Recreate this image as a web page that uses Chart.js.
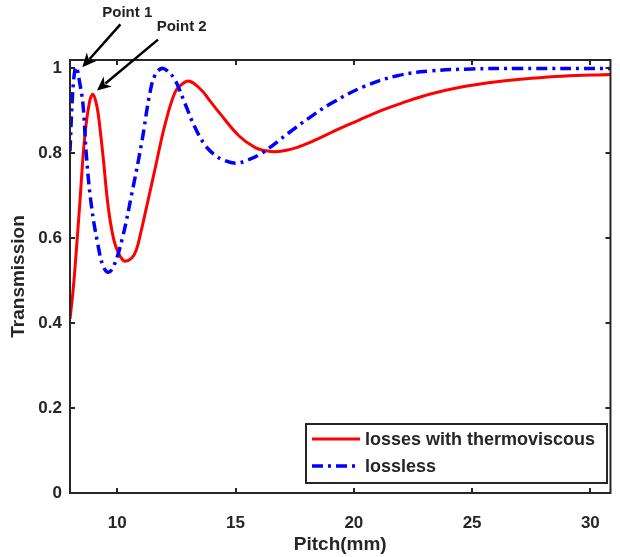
<!DOCTYPE html>
<html>
<head>
<meta charset="utf-8">
<script src="https://cdn.jsdelivr.net/npm/chart.js@4/dist/chart.umd.min.js"></script>
<style>
  html, body { margin: 0; padding: 0; background: #fff; }
  #wrap { width: 620px; height: 557px; }
</style>
</head>
<body>
<div id="wrap"><canvas id="chart" width="620" height="557"></canvas></div>
<script>
// Data
const LOSSY_X = [8.0, 8.1, 8.2, 8.41, 8.62, 8.83, 8.97, 9.1, 9.2, 9.39, 9.62, 9.85, 10.05, 10.2, 10.33, 10.6, 10.8, 11.0, 11.17, 11.59, 12.0, 12.43, 12.71, 13.05, 13.54, 13.9, 14.31, 15.15, 15.85, 16.3, 16.68, 17.2, 17.65, 18.07, 18.5, 19.0, 19.7, 20.45, 21.2, 22.0, 23.24, 24.5, 26.04, 27.5, 28.8, 30.85];
const LOSSY_Y = [0.41, 0.46, 0.522, 0.679, 0.837, 0.923, 0.939, 0.92, 0.89, 0.797, 0.672, 0.597, 0.565, 0.551, 0.546, 0.553, 0.572, 0.615, 0.657, 0.762, 0.864, 0.943, 0.962, 0.970, 0.95, 0.925, 0.896, 0.841, 0.813, 0.806, 0.804, 0.808, 0.815, 0.824, 0.835, 0.848, 0.866, 0.884, 0.902, 0.918, 0.94, 0.956, 0.969, 0.977, 0.982, 0.986];

const LOSSLESS_X = [8.0, 8.1, 8.2, 8.27, 8.4, 8.55, 8.69, 8.9, 9.18, 9.4, 9.62, 9.85, 10.2, 10.62, 11.03, 11.38, 11.6, 11.87, 12.1, 12.43, 12.85, 13.26, 13.68, 14.1, 14.5, 15.0, 15.5, 16.12, 17.24, 18.07, 19.05, 20.45, 21.84, 23.24, 25.0, 27.0, 30.85];
const LOSSLESS_Y = [0.805, 0.93, 0.995, 1.003, 0.97, 0.915, 0.797, 0.679, 0.585, 0.535, 0.52, 0.535, 0.597, 0.707, 0.825, 0.943, 0.985, 1.0, 0.995, 0.974, 0.919, 0.864, 0.822, 0.797, 0.784, 0.777, 0.784, 0.801, 0.848, 0.882, 0.918, 0.958, 0.983, 0.994, 0.999, 1.0, 1.0];

const SERIES_LABELS = ['losses with thermoviscous', 'lossless'];
const X_TICKS = [10, 15, 20, 25, 30];
const Y_TICKS = [0, 0.2, 0.4, 0.6, 0.8, 1];

// Callouts: label, text position, arrow tail, arrow tip (data units)
const CALLOUTS = [
  { text: 'Point 1', at: [10.42, 1.132], from: [10.13, 1.104], to: [8.52, 1.003] },
  { text: 'Point 2', at: [12.72, 1.097], from: [11.72, 1.068], to: [9.14, 0.948] }
];

const INK = '#262626';
const FONT = '"Liberation Sans", Arial, sans-serif';

const toPoints = (xs, ys) => xs.map((x, i) => ({ x, y: ys[i] }));

// Frame, inward ticks, legend and callouts
const decorations = {
  id: 'decorations',
  afterDraw(chart) {
    const { ctx, chartArea: a, scales: { x, y } } = chart;
    ctx.save();

    // frame
    ctx.strokeStyle = INK;
    ctx.lineWidth = 2;
    ctx.strokeRect(a.left, a.top, a.right - a.left, a.bottom - a.top);

    // inward ticks on all sides
    const len = 5;
    ctx.beginPath();
    X_TICKS.forEach(v => {
      const px = Math.round(x.getPixelForValue(v));
      ctx.moveTo(px, a.bottom); ctx.lineTo(px, a.bottom - len);
      ctx.moveTo(px, a.top); ctx.lineTo(px, a.top + len);
    });
    Y_TICKS.forEach(v => {
      const py = Math.round(y.getPixelForValue(v));
      ctx.moveTo(a.left, py); ctx.lineTo(a.left + len, py);
      ctx.moveTo(a.right, py); ctx.lineTo(a.right - len, py);
    });
    ctx.stroke();

    // legend box
    const box = { left: 306, top: 424, width: 301, height: 59 };
    ctx.fillStyle = '#fff';
    ctx.fillRect(box.left, box.top, box.width, box.height);
    ctx.strokeStyle = INK;
    ctx.lineWidth = 2;
    ctx.strokeRect(box.left, box.top, box.width, box.height);

    ctx.font = 'bold 18px ' + FONT;
    ctx.textBaseline = 'middle';
    ctx.textAlign = 'left';
    chart.data.datasets.forEach((ds, i) => {
      const rowY = box.top + 15 + i * 27;
      ctx.beginPath();
      ctx.strokeStyle = ds.borderColor;
      ctx.lineWidth = ds.borderWidth;
      ctx.setLineDash(ds.borderDash || []);
      ctx.moveTo(box.left + 6, rowY);
      ctx.lineTo(box.left + 54, rowY);
      ctx.stroke();
      ctx.setLineDash([]);
      ctx.fillStyle = INK;
      ctx.fillText(ds.label, box.left + 59, rowY + 1);
    });

    // callouts
    ctx.fillStyle = '#000';
    ctx.strokeStyle = '#000';
    ctx.lineWidth = 2.5;
    CALLOUTS.forEach(c => {
      const tx = x.getPixelForValue(c.at[0]), ty = y.getPixelForValue(c.at[1]);
      const fx = x.getPixelForValue(c.from[0]), fy = y.getPixelForValue(c.from[1]);
      const ex = x.getPixelForValue(c.to[0]), ey = y.getPixelForValue(c.to[1]);
      const ang = Math.atan2(ey - fy, ex - fx);
      const head = 14, half = 6.5;
      const bx = ex - head * Math.cos(ang), by = ey - head * Math.sin(ang);
      ctx.beginPath();
      ctx.moveTo(fx, fy);
      ctx.lineTo(bx + 3 * Math.cos(ang), by + 3 * Math.sin(ang));
      ctx.stroke();
      ctx.beginPath();
      ctx.moveTo(ex, ey);
      ctx.lineTo(bx - half * Math.sin(ang), by + half * Math.cos(ang));
      ctx.lineTo(bx + 4 * Math.cos(ang), by + 4 * Math.sin(ang));
      ctx.lineTo(bx + half * Math.sin(ang), by - half * Math.cos(ang));
      ctx.closePath();
      ctx.fill();
      ctx.font = 'bold 15px ' + FONT;
      ctx.textAlign = 'center';
      ctx.fillStyle = '#222';
      ctx.fillText(c.text, tx, ty);
      ctx.fillStyle = '#000';
    });

    ctx.restore();
  }
};

const chart = new Chart(document.getElementById('chart'), {
  type: 'line',
  data: {
    datasets: [
      {
        label: SERIES_LABELS[0],
        data: toPoints(LOSSY_X, LOSSY_Y),
        borderColor: '#ff0000',
        borderWidth: 3,
        tension: 0.4,
        pointRadius: 0,
        order: 2
      },
      {
        label: SERIES_LABELS[1],
        data: toPoints(LOSSLESS_X, LOSSLESS_Y),
        borderColor: '#0000ff',
        borderWidth: 3.5,
        borderDash: [11, 5, 3, 5],
        tension: 0.4,
        pointRadius: 0,
        order: 1
      }
    ]
  },
  options: {
    responsive: false,
    animation: false,
    devicePixelRatio: 1,
    layout: { padding: { top: 60, right: 5, left: 0, bottom: 0 } },
    plugins: { legend: { display: false }, tooltip: { enabled: false } },
    scales: {
      x: {
        type: 'linear',
        min: 8,
        max: 30.85,
        afterFit: s => { s.height = 64; },
        afterBuildTicks: s => { s.ticks = X_TICKS.map(value => ({ value })); },
        grid: { display: false, drawTicks: false },
        border: { display: false },
        ticks: { color: INK, font: { family: FONT, size: 17, weight: 'bold' }, padding: 20, maxRotation: 0 },
        title: { display: true, text: 'Pitch(mm)', color: INK, font: { family: FONT, size: 19, weight: 'bold' }, padding: { top: 0, bottom: 1 } }
      },
      y: {
        min: 0,
        max: 1.02,
        afterFit: s => { s.width = 70; },
        afterBuildTicks: s => { s.ticks = Y_TICKS.map(value => ({ value })); },
        grid: { display: false, drawTicks: false },
        border: { display: false },
        ticks: { color: INK, font: { family: FONT, size: 17, weight: 'bold' }, padding: 8, callback: v => String(v) },
        title: { display: true, text: 'Transmission', color: INK, font: { family: FONT, size: 19, weight: 'bold' }, padding: { top: 7, bottom: 0 } }
      }
    }
  },
  plugins: [decorations]
});
</script>
</body>
</html>
